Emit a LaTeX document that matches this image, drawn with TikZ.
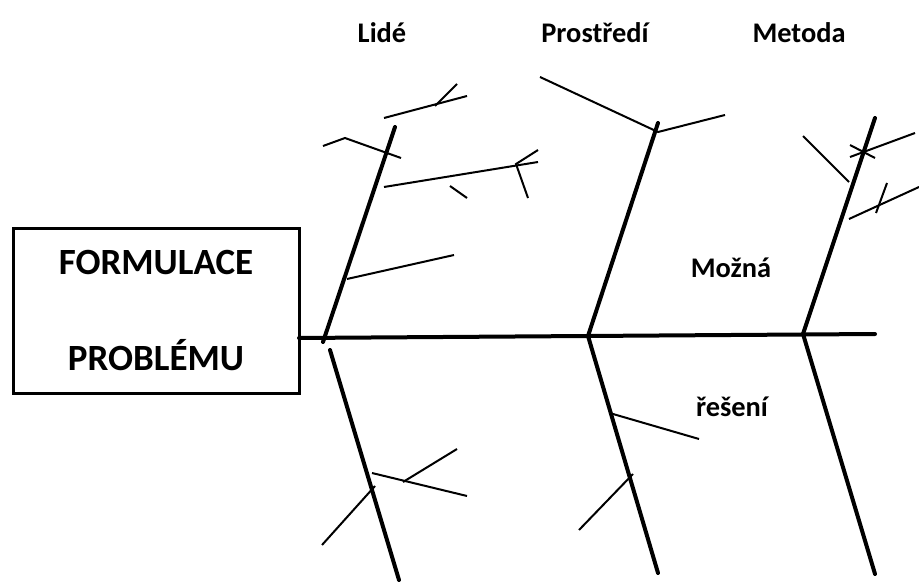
\documentclass[tikz,border=0pt]{standalone}
\usepackage{fontspec}
\setmainfont{Carlito}
\usepackage{tikz}
\usetikzlibrary{positioning, calc}

\begin{document}
\begin{tikzpicture}[x=0.5pt, y=-0.5pt,
    bone/.style={line width=2pt, line cap=round, black},
    twig/.style={line width=1pt, black},
    causebox/.style={rectangle, draw=black, line width=1.5pt, minimum width=143pt, minimum height=82pt,
      inner sep=0pt, align=center, font=\fontsize{18.5}{22}\selectfont\bfseries},
    headlabel/.style={anchor=base, inner sep=0pt, font=\fontsize{14.2}{17}\selectfont\bfseries}]

    \useasboundingbox (0,0) rectangle (919,582);

    \node (problem) [causebox] at (156,311) {FORMULACE\\[26pt]PROBLÉMU};

    \node (lide) [headlabel] at (382,43) {Lidé};
    \node (prostredi) [headlabel] at (595,43) {Prostředí};
    \node (metoda) [headlabel] at (799,43) {Metoda};
    \node (mozna) [headlabel] at (731,278) {Možná};
    \node (reseni) [headlabel] at (732,416) {řešení};

    \coordinate (tail) at (299,338);
    \coordinate (head) at (875,334);
    \coordinate (lideFoot) at (323,342);
    \coordinate (lideTop) at (395,127);
    \coordinate (prostrFoot) at (588,336);
    \coordinate (prostrTop) at (658,123);
    \coordinate (metodaFoot) at (803,334);
    \coordinate (metodaTop) at (875,118);
    \coordinate (lideLowTop) at (330,350);
    \coordinate (lideLowEnd) at (399,580);
    \coordinate (prostrLowEnd) at (658,573);
    \coordinate (metodaLowEnd) at (875,574);

    \draw [bone] (tail) -- (head);
    \draw [bone] (lideFoot) -- (lideTop);
    \draw [bone] (prostrFoot) -- (prostrTop);
    \draw [bone] (metodaFoot) -- (metodaTop);
    \draw [bone] (lideLowTop) -- (lideLowEnd);
    \draw [bone] (prostrFoot) -- (prostrLowEnd);
    \draw [bone] (metodaFoot) -- (metodaLowEnd);

    \draw [twig] (384,118) -- (467,96);
    \draw [twig] (435,106) -- (457,84);
    \draw [twig] (323,146) -- (345,138) -- (401,158);
    \draw [twig] (384,187) -- (538,162);
    \draw [twig] (538,150) -- (516,164) -- (528,198);
    \draw [twig] (450,186) -- (467,198);
    \draw [twig] (347,279) -- (454,255);

    \draw [twig] (540,77) -- (prostrTop |- 0,132) -- (725,115);

    \draw [twig] (803,136) -- (849,182);
    \draw [twig] (850,157) -- (915,133);
    \draw [twig] (850,145) -- (875,158);
    \draw [twig] (849,219) -- (919,187);
    \draw [twig] (887,183) -- (876,213);

    \draw [twig] (372,473) -- (467,496);
    \draw [twig] (403,482) -- (457,449);
    \draw [twig] (322,545) -- (375,486);
    \draw [twig] (613,414) -- (699,439);
    \draw [twig] (579,530) -- (633,474);
\end{tikzpicture}
\end{document}
